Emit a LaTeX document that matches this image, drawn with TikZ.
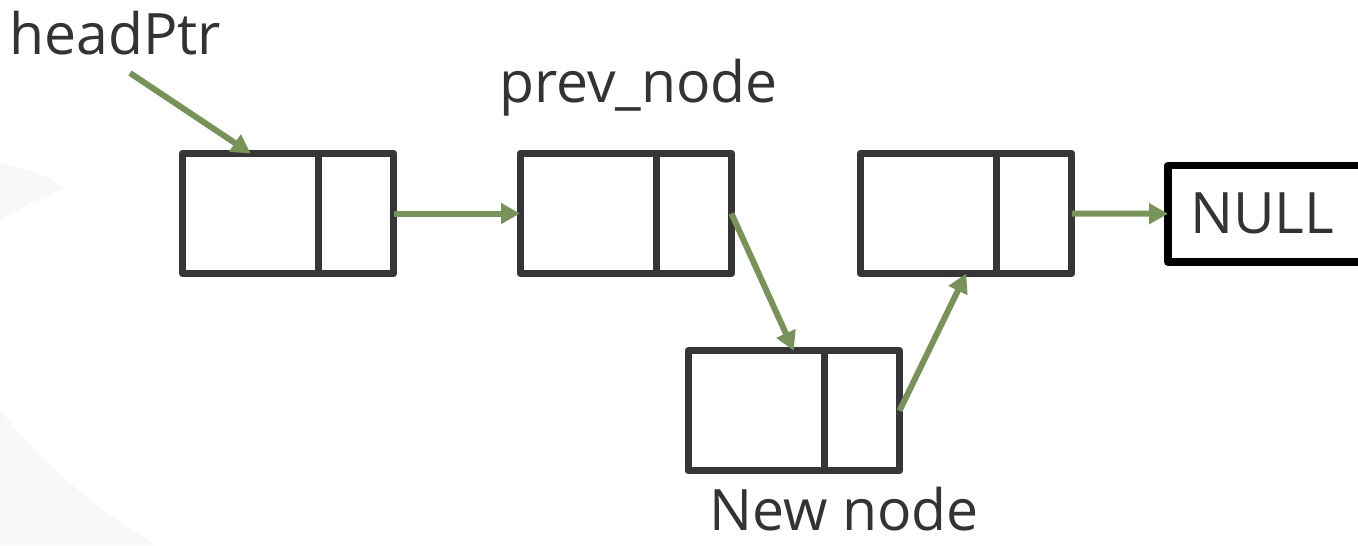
\documentclass[tikz,border=0pt]{standalone}
\usepackage{fontspec}
\setmainfont{Open Sans}
\usetikzlibrary{arrows.meta}
\definecolor{boxgray}{RGB}{54,54,56}
\definecolor{txtgray}{RGB}{51,51,51}
\definecolor{ptrgreen}{RGB}{119,147,90}
\definecolor{bggray}{RGB}{248,248,248}

\begin{document}
\begin{tikzpicture}[x=0.02cm, y=-0.02cm,
    cell/.style={draw=boxgray, line width=0.14cm, line join=round, outer sep=0pt,
      inner sep=0pt, minimum height=2.4cm, anchor=west},
    datacell/.style={cell, minimum width=2.73cm},
    nextcell/.style={cell, minimum width=1.5cm},
    ptr/.style={draw=ptrgreen, line width=0.12cm, -{Triangle[length=0.38cm, width=0.4cm]}},
    lbl/.style={text=txtgray, inner sep=0pt, anchor=base, font=\fontsize{32.5}{38}\selectfont}]
  \useasboundingbox (0,0) rectangle (1358,545);
  % faint slide background
  \fill[bggray] (0,163) .. controls (30,168) and (50,178) .. (65,188)
    .. controls (40,198) and (20,208) .. (0,220) -- cycle;
  \fill[bggray] (0,410) .. controls (40,460) and (90,505) .. (155,545) -- (0,545) -- cycle;

  % list nodes
  \node[datacell] (n1d) at (182.5,213.5) {};
  \node[nextcell] (n1p) at (n1d.east) {};
  \node[datacell] (n2d) at (520,213.5) {};
  \node[nextcell] (n2p) at (n2d.east) {};
  \node[datacell] (n3d) at (860.5,213.5) {};
  \node[nextcell] (n3p) at (n3d.east) {};
  \node[datacell] (nd) at (688,410.75) {};
  \node[nextcell] (np) at (nd.east) {};
  \node[draw=black, line width=0.15cm, line join=round, outer sep=0pt, anchor=west,
    minimum height=1.93cm, text width=5cm, inner xsep=0.44cm, inner ysep=0pt,
    align=left, text=txtgray, font=\fontsize{32.5}{38}\selectfont] (null) at (1168,213.75) {NULL};

  % labels
  \node[lbl] (head) at (115,54) {headPtr};
  \node[lbl] (prev) at (638.5,102) {prev\_node};
  \node[lbl] (newlbl) at (844,530) {New node};
  \coordinate (hp) at (130,73);

  % pointers
  \begin{scope}[ptr]
    \draw (hp) -- (n1d.north);
    \draw (n1p.east) -- (n2d.west);
    \draw (n2p.east) -- (nd.58);
    \draw (np.east) -- (n3d.-58);
    \draw (n3p.east) -- (null.west);
  \end{scope}
\end{tikzpicture}
\end{document}
